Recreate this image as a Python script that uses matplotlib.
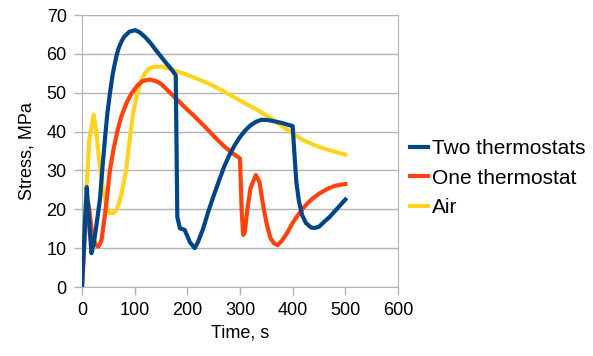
import matplotlib.pyplot as plt

plt.rcParams['font.family'] = ['Liberation Sans', 'DejaVu Sans']

# Two thermostats
t_two = [0, 5, 9, 13, 18, 22, 27, 34, 39, 44, 48, 53, 58, 62, 66, 70, 75, 80, 90, 101,
         110, 120, 130, 140, 150, 160, 170, 178, 181, 186, 195, 205, 214, 220, 230,
         240, 250, 260, 270, 280, 290, 300, 310, 320, 330, 340, 350, 360, 370, 380,
         390, 400, 403, 407, 412, 418, 425, 435, 442, 450, 460, 470, 480, 490, 500]
s_two = [0, 15, 25.7, 18, 8.7, 11, 15.5, 22.5, 31, 38.7, 44.5, 49.8, 54.5, 57.3, 59.8,
         61.6, 63.2, 64.4, 65.7, 66.1, 65.5, 64.3, 62.8, 61, 59.3, 57.6, 56, 54.5, 18,
         15.1, 14.7, 11.5, 10, 11.5, 15, 19.5, 23.5, 27.3, 31, 34, 36.5, 38.6, 40.3,
         41.6, 42.5, 43, 43, 42.8, 42.5, 42.2, 41.8, 41.4, 35, 27, 22, 18.5, 16.5, 15.3,
         15.2, 15.5, 16.8, 18, 19.5, 21, 22.5]

# One thermostat
t_one = [0, 5, 10, 13, 18, 25, 31, 37, 44, 53, 60, 67, 75, 85, 94, 105, 115, 129,
         140, 150, 165, 180, 195, 210, 225, 240, 255, 270, 285, 300, 303, 306, 309,
         314, 320, 330, 337, 344, 351, 358, 365, 372, 380, 390, 400, 410, 420, 430,
         440, 450, 460, 470, 480, 490, 500]
s_one = [0, 12, 22, 21, 15, 11, 10.4, 12, 19, 30, 35.5, 40, 44, 47.5, 49.8, 51.8, 53,
         53.4, 53, 52.3, 50.3, 48.3, 46.3, 44.4, 42.4, 40.3, 38.2, 36.2, 34.5, 33.1,
         20, 13.4, 14, 20, 25.5, 28.8, 27, 21, 16, 12.5, 11.2, 10.8, 12, 14, 16.5, 18.5,
         20.3, 21.8, 23, 24, 24.8, 25.5, 26, 26.3, 26.5]

# Air
t_air = [0, 5, 9, 14, 22, 27, 33, 40, 47, 53, 59.5, 65, 70, 75, 80, 84, 88, 92.4, 98,
         105, 112, 119.5, 128, 138, 150, 165, 180, 200, 220, 240, 260, 280, 300, 320,
         340, 360, 380, 400, 420, 440, 460, 480, 500]
s_air = [0, 14, 26.5, 38, 44.3, 40, 32, 25, 20.5, 19, 19, 19.8, 21.5, 24, 27.5, 30.1,
         35, 40, 45.5, 49.8, 53, 55, 56.2, 56.7, 56.7, 56.2, 55.5, 54.6, 53.5, 52.4, 51,
         49.5, 48, 46.5, 45, 43.3, 41.4, 39.5, 37.8, 36.6, 35.6, 34.8, 34.1]

grid_c = '#b3b3b3'

fig = plt.figure(figsize=(5.93, 3.56), dpi=100)
ax = fig.add_axes([82 / 593, 1 - 287 / 356, 316 / 593, 272 / 356])

ax.plot(t_two, s_two, color='#004586', lw=3, label='Two thermostats', zorder=3)
ax.plot(t_one, s_one, color='#ff420e', lw=3, label='One thermostat', zorder=2)
ax.plot(t_air, s_air, color='#ffd320', lw=3, label='Air', zorder=1)

ax.set_xlim(0, 600)
ax.set_ylim(0, 70)
ax.set_xticks(range(0, 601, 100))
ax.set_yticks(range(0, 71, 10))
ax.yaxis.grid(True, color=grid_c, lw=1)
ax.set_axisbelow(True)
for sp in ax.spines.values():
    sp.set_color(grid_c)
ax.tick_params(colors=grid_c, labelcolor='black', labelsize=13, length=6, width=1, pad=5)
ax.set_xlabel('Time, s', fontsize=13, labelpad=4)
ax.set_ylabel('Stress, MPa', fontsize=13, labelpad=8)

ax.legend(loc='center left', bbox_to_anchor=(1.012, 0.40), frameon=False, fontsize=15,
          handlelength=0.85, handletextpad=0.2, labelspacing=0.49, borderaxespad=0)

fig.savefig('out.png', dpi=100)
